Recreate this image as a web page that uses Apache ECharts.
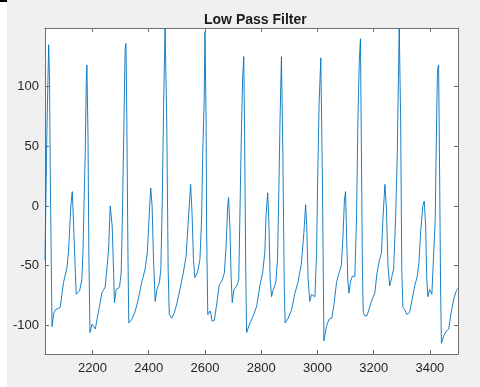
<!DOCTYPE html>
<html>
<head>
<meta charset="utf-8">
<script src="https://cdn.jsdelivr.net/npm/echarts@6/dist/echarts.min.js"></script>
<style>
  html, body { margin: 0; padding: 0; background: #fff; }
  #main { width: 480px; height: 387px; }
</style>
</head>
<body>
<div id="main"></div>
<script>
// Low Pass Filter - filtered ECG trace
const titleText = 'Low Pass Filter'
const xTicks = [2200, 2400, 2600, 2800, 3000, 3200, 3400]
const yTicks = [-100, -50, 0, 50, 100]

const sampleX = [
  2031, 2038, 2044, 2047, 2050, 2056, 2062, 2068, 2085, 2097, 2109, 2115, 2123, 2128, 2132, 2139, 2142,
  2154, 2162, 2166, 2170, 2174, 2178, 2180, 2184, 2187, 2191, 2198, 2204, 2210, 2216, 2225, 2233, 2245,
  2251, 2257, 2263, 2265, 2270, 2275, 2278, 2284, 2296, 2302, 2306, 2312, 2316, 2319, 2322, 2326, 2329,
  2340, 2352, 2363, 2375, 2387, 2395, 2402, 2407, 2412, 2417, 2423, 2429, 2438, 2443, 2448, 2453, 2458,
  2464, 2469, 2473, 2482, 2490, 2500, 2511, 2523, 2533, 2541, 2549, 2554, 2559, 2564, 2573, 2582, 2588,
  2592, 2597, 2600, 2604, 2606, 2610, 2618, 2622, 2625, 2633, 2642, 2651, 2660, 2669, 2675, 2681, 2684,
  2689, 2693, 2697, 2703, 2713, 2720, 2724, 2729, 2734, 2738, 2741, 2745, 2748, 2760, 2772, 2784, 2795,
  2805, 2813, 2817, 2823, 2827, 2832, 2837, 2843, 2852, 2858, 2863, 2867, 2872, 2877, 2882, 2885, 2896,
  2908, 2920, 2931, 2943, 2952, 2958, 2962, 2967, 2973, 2979, 2991, 2997, 3001, 3006, 3012, 3018, 3023,
  3032, 3041, 3051, 3058, 3068, 3077, 3085, 3091, 3096, 3100, 3103, 3108, 3112, 3118, 3124, 3133, 3139,
  3144, 3149, 3153, 3156, 3160, 3163, 3168, 3176, 3183, 3192, 3204, 3212, 3221, 3228, 3233, 3240, 3245,
  3251, 3257, 3263, 3271, 3278, 3284, 3288, 3291, 3296, 3300, 3304, 3311, 3318, 3328, 3337, 3346, 3355,
  3361, 3367, 3375, 3380, 3385, 3389, 3393, 3399, 3407, 3414, 3419, 3424, 3427, 3431, 3434, 3438, 3441,
  3449, 3458, 3467, 3476, 3485, 3494, 3500
]
const sampleY = [
  -45, 65, 135, 109, 20, -101, -90, -87, -85, -64, -52, -37, 0, 12, -11, -56, -74,
  -71, -62, -39, 3, 44, 105, 118, 58, -39, -106, -99, -99, -103, -95, -84, -73, -68,
  -53, -37, 0, 0.5, -17, -56, -81, -70, -68, -56, -11, 72, 131, 136, 72, -39, -98,
  -95, -88, -78, -64, -53, -39, -6, 15, 0, -45, -80, -70, -64, -53, 3, 86, 149,
  72, -53, -91, -94, -90, -82, -70, -56, -42, -11, 18, -6, -45, -60, -56, -45, -11,
  44, 86, 146, 72, -25, -91, -88, -91, -96.5, -96, -82, -66, -63, -56, -34, 0, 7,
  -20, -59, -81, -70, -67, -62, -11, 55, 108, 125, 58, -53, -106, -98, -92, -84, -67,
  -56, -39, -9, 11, -11, -62, -76, -70, -64, -45, 16, 72, 125, 44, -67, -98, -94,
  -87, -73, -64, -48, -22, 1, -17, -62, -80, -74, -76, -39, 25, 86, 124, 16, -113,
  -101, -95, -94, -84, -64, -56, -50, -25, 5, 12, -17, -62, -73, -63, -59, -59, -11,
  72, 122, 140, 58, -53, -89, -92, -92, -87, -80, -73, -56, -45, -39, -11, 18, 0,
  -50, -67, -66, -53, -11, 44, 106, 149, 72, -53, -85, -87, -91, -89, -78, -67, -59,
  -48, -22, 0, 4, -17, -62, -76, -70, -74, -73, -11, 72, 114, 118, 44, -67, -115,
  -109, -105, -103, -89, -78, -71, -69
]

const chart = echarts.init(document.getElementById('main'))

const fontFamily = '"Liberation Sans", Arial, sans-serif'
const axisColor = '#707070'
const labelColor = '#262626'

// box axes: ticks inside on all four sides like MATLAB
const boxX = (pos, showLabel) => ({
  type: 'value',
  position: pos,
  min: 2031,
  max: 3500,
  axisLine: { show: true, onZero: false, lineStyle: { color: axisColor, width: 1 } },
  axisTick: { show: true, inside: true, length: 4, customValues: xTicks, lineStyle: { color: axisColor } },
  axisLabel: {
    show: showLabel,
    customValues: xTicks,
    formatter: (v) => String(v),
    margin: 8,
    color: labelColor,
    fontSize: 13,
    fontFamily
  },
  splitLine: { show: false }
})
const boxY = (pos, showLabel) => ({
  type: 'value',
  position: pos,
  min: -124,
  max: 149,
  axisLine: { show: true, onZero: false, lineStyle: { color: axisColor, width: 1 } },
  axisTick: { show: true, inside: true, length: 4, customValues: yTicks, lineStyle: { color: axisColor } },
  axisLabel: {
    show: showLabel,
    customValues: yTicks,
    formatter: (v) => String(v),
    margin: 6,
    color: labelColor,
    fontSize: 13,
    fontFamily
  },
  splitLine: { show: false }
})

const option = {
  animation: false,
  backgroundColor: '#f0f0f0',
  title: {
    text: titleText,
    left: 199,
    top: 8,
    textStyle: { fontSize: 14, fontWeight: 'bold', color: '#1a1a1a', fontFamily }
  },
  grid: { left: 45, right: 22, top: 28, bottom: 33, backgroundColor: '#fff', show: true, borderWidth: 0 },
  graphic: [
    // white strip and small dark mark at the left edge of the screenshot
    { type: 'rect', left: 0, top: 0, shape: { width: 7, height: 387 }, style: { fill: '#fff' } },
    { type: 'rect', left: 0, top: 0, shape: { width: 7, height: 2 }, style: { fill: '#000' } }
  ],
  xAxis: [boxX('bottom', true), boxX('top', false)],
  yAxis: [boxY('left', true), boxY('right', false)],
  series: [
    {
      type: 'line',
      xAxisIndex: 0,
      yAxisIndex: 0,
      data: sampleX.map((x, i) => [x, sampleY[i]]),
      showSymbol: false,
      lineStyle: { color: '#0072BD', width: 0.9 }
    }
  ]
}
chart.setOption(option)
</script>
</body>
</html>
